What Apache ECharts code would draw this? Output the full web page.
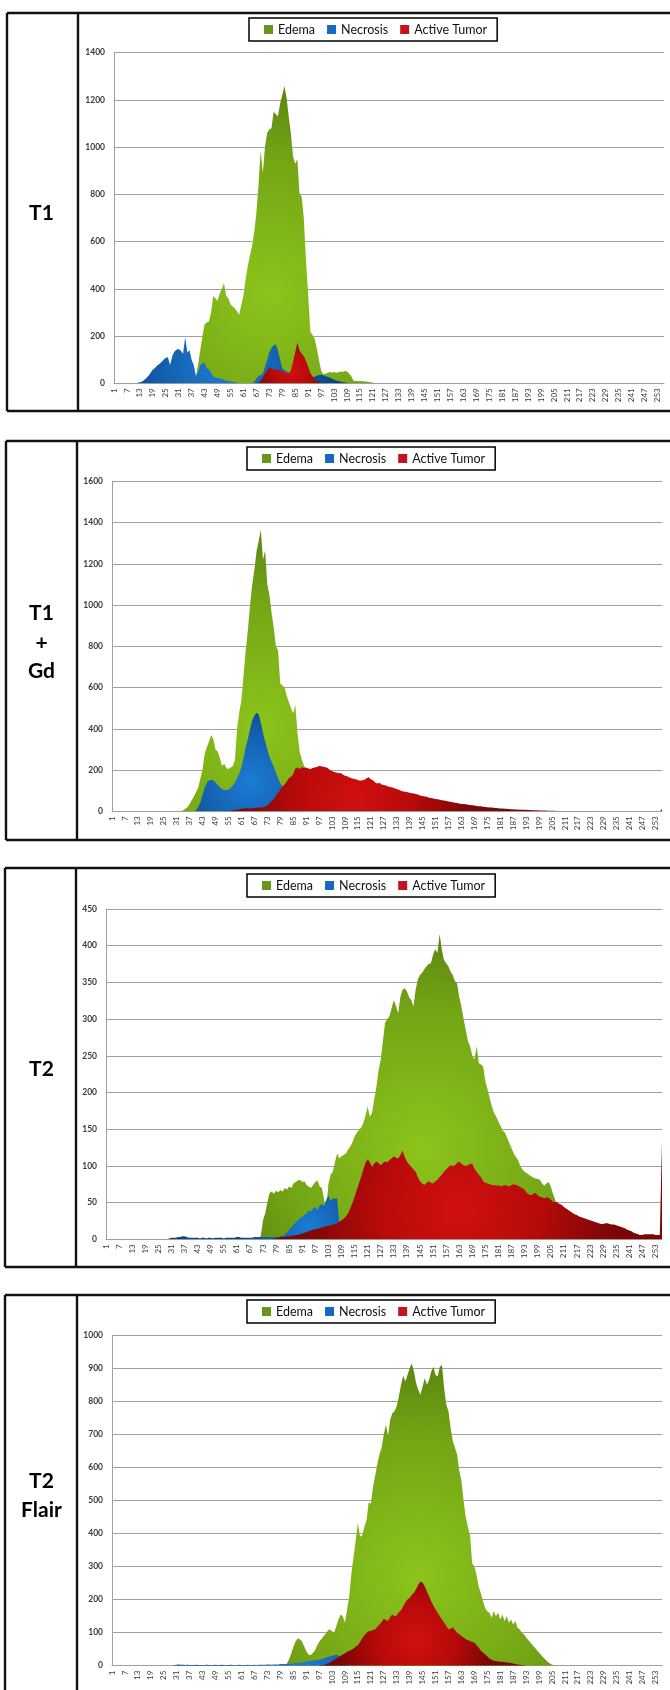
<!DOCTYPE html>
<html><head><meta charset="utf-8">
<script src="https://cdn.jsdelivr.net/npm/echarts@6/dist/echarts.min.js"></script>
<style>html,body{margin:0;padding:0;background:#fff}#c{width:670px;height:1690px}</style>
</head><body><div id="c"></div>
<script>
// intensity bins 1..256 (category axis)
const categories = Array.from({length: 256}, (_, i) => String(i + 1));
const seriesNames = ['Edema', 'Necrosis', 'Active Tumor'];
const panelLabels = [['T1'], ['T1', '+', 'Gd'], ['T2'], ['T2', 'Flair']];
const yMax = [1400, 1600, 450, 1000];
const yStep = [200, 200, 50, 100];

// ---------- T1 ----------
const t1Edema = [
0,0,0,0,0,0,0,0,0,0,0,0,0,0,0,0,
0,0,0,0,0,0,0,0,0,0,0,0,0,0,0,0,
0,0,0,0,0,5,30,80,140,200,250,258,262,300,370,360,
350,380,400,425,370,360,335,325,318,305,290,330,370,440,495,540,
580,640,720,840,985,890,1000,1060,1075,1080,1150,1140,1130,1185,1220,1258,
1210,1130,1060,960,930,950,805,790,700,520,380,220,205,190,150,100,
55,38,40,45,48,46,48,45,47,50,48,52,50,42,30,12,
10,10,9,10,8,8,6,4,2,0,0,0,0,0,0,0,
0,0,0,0,0,0,0,0,0,0,0,0,0,0,0,0,
0,0,0,0,0,0,0,0,0,0,0,0,0,0,0,0,
0,0,0,0,0,0,0,0,0,0,0,0,0,0,0,0,
0,0,0,0,0,0,0,0,0,0,0,0,0,0,0,0,
0,0,0,0,0,0,0,0,0,0,0,0,0,0,0,0,
0,0,0,0,0,0,0,0,0,0,0,0,0,0,0,0,
0,0,0,0,0,0,0,0,0,0,0,0,0,0,0,0,
0,0,0,0,0,0,0,0,0,0,0,0,0,0,0,0
];
const t1Necrosis = [
0,0,0,0,0,0,0,0,0,0,0,2,4,8,14,22,
32,45,58,65,75,82,90,100,108,110,78,115,135,142,145,138,
125,195,130,140,100,75,30,50,75,88,85,65,58,45,30,24,
22,20,18,14,12,10,8,7,4,2,0,0,0,0,0,0,
0,5,20,30,35,40,70,100,130,150,160,165,140,100,65,55,
50,45,40,38,35,35,32,30,30,28,28,26,25,28,32,35,
36,34,30,28,25,20,15,12,10,8,6,4,2,0,0,0,
0,0,0,0,0,0,0,0,0,0,0,0,0,0,0,0,
0,0,0,0,0,0,0,0,0,0,0,0,0,0,0,0,
0,0,0,0,0,0,0,0,0,0,0,0,0,0,0,0,
0,0,0,0,0,0,0,0,0,0,0,0,0,0,0,0,
0,0,0,0,0,0,0,0,0,0,0,0,0,0,0,0,
0,0,0,0,0,0,0,0,0,0,0,0,0,0,0,0,
0,0,0,0,0,0,0,0,0,0,0,0,0,0,0,0,
0,0,0,0,0,0,0,0,0,0,0,0,0,0,0,0,
0,0,0,0,0,0,0,0,0,0,0,0,0,0,0,0
];
const t1Tumor = [
0,0,0,0,0,0,0,0,0,0,0,0,0,0,0,0,
0,0,0,0,0,0,0,0,0,0,0,0,0,0,0,0,
0,0,0,0,0,0,0,0,0,0,0,0,0,0,0,0,
0,0,0,0,0,0,0,0,0,0,0,0,0,0,0,0,
0,0,0,3,10,25,40,55,68,62,60,58,57,55,50,48,
42,40,55,90,130,172,140,125,115,95,70,45,30,18,10,5,
2,0,0,0,0,0,0,0,0,0,0,0,0,0,0,0,
0,0,0,0,0,0,0,0,0,0,0,0,0,0,0,0,
0,0,0,0,0,0,0,0,0,0,0,0,0,0,0,0,
0,0,0,0,0,0,0,0,0,0,0,0,0,0,0,0,
0,0,0,0,0,0,0,0,0,0,0,0,0,0,0,0,
0,0,0,0,0,0,0,0,0,0,0,0,0,0,0,0,
0,0,0,0,0,0,0,0,0,0,0,0,0,0,0,0,
0,0,0,0,0,0,0,0,0,0,0,0,0,0,0,0,
0,0,0,0,0,0,0,0,0,0,0,0,0,0,0,0,
0,0,0,0,0,0,0,0,0,0,0,0,0,0,0,0
];

// ---------- T1 + Gd ----------
const t1gdEdema = [
0,0,0,0,0,0,0,0,0,0,0,0,0,0,0,0,
0,0,0,0,0,0,0,0,0,0,0,0,0,0,0,0,
0,5,12,20,35,55,70,95,115,160,205,280,310,340,370,350,
300,290,260,220,230,210,205,212,218,250,400,480,540,660,780,880,
1000,1100,1170,1260,1310,1365,1220,1265,1100,1050,960,890,800,780,620,610,
600,560,530,500,475,515,380,290,250,222,205,180,150,120,90,60,
40,25,15,8,4,2,0,0,0,0,0,0,0,0,0,0,
0,0,0,0,0,0,0,0,0,0,0,0,0,0,0,0,
0,0,0,0,0,0,0,0,0,0,0,0,0,0,0,0,
0,0,0,0,0,0,0,0,0,0,0,0,0,0,0,0,
0,0,0,0,0,0,0,0,0,0,0,0,0,0,0,0,
0,0,0,0,0,0,0,0,0,0,0,0,0,0,0,0,
0,0,0,0,0,0,0,0,0,0,0,0,0,0,0,0,
0,0,0,0,0,0,0,0,0,0,0,0,0,0,0,0,
0,0,0,0,0,0,0,0,0,0,0,0,0,0,0,0,
0,0,0,0,0,0,0,0,0,0,0,0,0,0,0,0
];
const t1gdNecrosis = [
0,0,0,0,0,0,0,0,0,0,0,0,0,0,0,0,
0,0,0,0,0,0,0,0,0,0,0,0,0,0,0,0,
0,0,0,0,0,0,0,5,20,45,80,115,140,150,152,150,
140,128,118,108,103,103,105,112,125,140,160,185,215,260,310,350,
400,440,465,478,470,430,380,340,300,265,240,215,186,160,135,120,
105,90,70,50,30,18,10,5,2,0,0,0,0,0,0,0,
0,0,0,0,0,0,0,0,0,0,0,0,0,0,0,0,
0,0,0,0,0,0,0,0,0,0,0,0,0,0,0,0,
0,0,0,0,0,0,0,0,0,0,0,0,0,0,0,0,
0,0,0,0,0,0,0,0,0,0,0,0,0,0,0,0,
0,0,0,0,0,0,0,0,0,0,0,0,0,0,0,0,
0,0,0,0,0,0,0,0,0,0,0,0,0,0,0,0,
0,0,0,0,0,0,0,0,0,0,0,0,0,0,0,0,
0,0,0,0,0,0,0,0,0,0,0,0,0,0,0,0,
0,0,0,0,0,0,0,0,0,0,0,0,0,0,0,0,
0,0,0,0,0,0,0,0,0,0,0,0,0,0,0,0
];
const t1gdTumor = [
0,0,0,0,0,0,0,0,0,0,0,0,0,0,0,0,
0,0,0,0,0,0,0,0,0,0,0,0,0,0,0,0,
0,0,0,0,0,0,0,0,0,0,0,0,0,0,0,0,
0,0,0,0,0,0,0,3,5,6,8,10,12,14,15,15,
14,15,16,17,18,18,20,22,28,38,50,60,75,90,105,120,
130,145,160,168,180,208,212,205,214,210,212,208,205,210,212,215,
220,218,216,214,210,200,195,190,188,185,186,178,172,170,165,160,
158,155,152,148,150,152,160,165,155,150,140,135,138,130,128,125,
120,118,115,112,108,105,100,96,95,92,90,88,86,84,80,76,
74,72,70,66,64,62,60,58,56,54,52,50,48,46,44,42,
40,38,36,35,34,32,30,29,28,26,25,24,22,21,20,19,
18,17,16,15,14,13,12,12,11,10,10,9,9,8,8,7,
7,6,6,5,5,5,4,4,4,4,3,3,3,3,2,2,
2,2,2,2,2,1,1,1,1,1,1,1,1,1,1,1,
1,0,0,0,0,0,0,0,0,0,0,0,0,0,0,0,
0,0,0,0,0,0,0,0,0,0,0,0,0,0,0,10
];

// ---------- T2 ----------
const t2Edema = [
0,0,0,0,0,0,0,0,0,0,0,0,0,0,0,0,
0,0,0,0,0,0,0,0,0,0,0,0,0,0,0,0,
0,0,0,0,0,0,0,0,0,0,0,0,0,0,0,0,
0,0,0,0,0,0,0,0,0,0,0,0,0,0,0,0,
0,0,0,0,0,0,0,5,26,35,50,63,65,62,66,64,
67,65,70,68,72,70,76,78,80,81,78,79,74,72,70,74,
78,80,72,70,55,40,75,88,92,105,117,110,113,115,117,122,
126,132,140,145,149,152,158,168,181,167,172,190,208,230,245,270,
295,300,304,315,326,318,308,330,340,342,338,330,326,317,340,354,
360,363,368,372,375,376,388,395,390,416,395,381,376,372,365,360,
352,349,330,317,300,285,270,263,250,245,263,240,238,235,215,204,
192,181,172,167,160,154,148,145,138,131,124,117,112,108,100,95,
92,90,88,86,84,83,82,81,76,73,76,78,72,62,54,45,
38,30,20,10,0,0,0,0,0,0,0,0,0,0,0,0,
0,0,0,0,0,0,0,0,0,0,0,0,0,0,0,0,
0,0,0,0,0,0,0,0,0,0,0,0,0,0,0,0
];
const t2Necrosis = [
0,0,0,0,0,0,0,0,0,0,0,0,0,0,0,0,
0,0,0,0,0,0,0,0,0,0,0,0,0,1,2,2,
2,3,3,4,4,3,2,2,2,2,2,1,2,2,1,2,
2,1,2,2,2,2,1,2,2,2,2,2,3,3,2,2,
2,2,2,2,3,3,3,3,3,3,3,3,3,3,3,3,
4,5,7,9,13,16,20,23,26,29,30,33,35,40,38,42,
44,40,46,48,45,54,60,52,56,55,56,22,15,10,5,2,
0,0,0,0,0,0,0,0,0,0,0,0,0,0,0,0,
0,0,0,0,0,0,0,0,0,0,0,0,0,0,0,0,
0,0,0,0,0,0,0,0,0,0,0,0,0,0,0,0,
0,0,0,0,0,0,0,0,0,0,0,0,0,0,0,0,
0,0,0,0,0,0,0,0,0,0,0,0,0,0,0,0,
0,0,0,0,0,0,0,0,0,0,0,0,0,0,0,0,
0,0,0,0,0,0,0,0,0,0,0,0,0,0,0,0,
0,0,0,0,0,0,0,0,0,0,0,0,0,0,0,0,
0,0,0,0,0,0,0,0,0,0,0,0,0,0,0,0
];
const t2Tumor = [
0,0,0,0,0,0,0,0,0,0,0,0,0,0,0,0,
0,0,0,0,0,0,0,0,0,0,0,0,0,0,0,0,
0,0,0,0,0,0,0,0,0,0,0,0,0,0,0,0,
0,0,0,0,0,0,0,0,0,0,0,0,0,0,0,0,
0,0,0,0,0,0,0,0,0,0,0,0,0,1,2,2,
3,3,3,4,4,5,5,6,6,7,8,9,10,11,12,13,
14,14,15,16,17,18,18,19,20,21,22,24,26,28,31,35,
42,49,58,67,76,85,95,104,109,105,99,103,106,104,101,104,
106,105,108,110,113,111,110,115,121,112,106,102,99,95,92,85,
79,76,74,77,79,77,76,79,81,85,88,92,95,98,101,100,
101,104,106,103,101,100,101,103,103,96,92,88,85,79,77,76,
75,74,74,73,74,72,73,74,73,72,74,75,74,73,71,70,
67,63,61,60,62,63,60,58,57,56,57,57,54,51,51,50,
48,47,44,42,40,38,36,34,33,31,30,29,28,27,26,25,
24,23,22,21,21,22,22,21,20,20,19,18,17,16,15,13,
12,11,9,8,7,6,6,7,7,7,7,7,6,6,6,135
];

// ---------- T2 Flair ----------
const flairEdema = [
0,0,0,0,0,0,0,0,0,0,0,0,0,0,0,0,
0,0,0,0,0,0,0,0,0,0,0,0,0,0,0,0,
0,0,0,0,0,0,0,0,0,0,0,0,0,0,0,0,
0,0,0,0,0,0,0,0,0,0,0,0,0,0,0,0,
0,0,0,0,0,0,0,0,0,0,0,0,0,0,0,0,
0,5,18,35,55,72,82,80,75,60,45,35,32,38,45,60,
72,80,88,97,105,110,104,100,120,140,155,150,130,170,210,280,
330,380,432,390,395,420,440,495,490,540,575,610,640,660,700,730,
695,745,765,770,785,815,850,878,860,880,900,915,890,855,835,820,
845,870,850,865,890,905,880,875,905,910,840,790,770,720,680,660,
640,590,560,500,450,420,395,310,300,275,240,220,195,175,165,160,
145,165,150,160,140,155,135,150,130,140,125,135,115,110,100,95,
85,78,70,62,55,47,40,32,25,18,12,7,3,1,0,0,
0,0,0,0,0,0,0,0,0,0,0,0,0,0,0,0,
0,0,0,0,0,0,0,0,0,0,0,0,0,0,0,0,
0,0,0,0,0,0,0,0,0,0,0,0,0,0,0,0
];
const flairNecrosis = [
0,0,0,0,0,0,0,0,0,0,0,0,0,0,0,0,
0,0,0,0,0,0,0,0,0,0,0,0,0,2,3,4,
3,3,2,3,2,2,2,3,2,2,2,2,3,2,2,2,
3,2,2,3,2,2,2,3,2,2,2,3,2,2,2,3,
2,2,3,2,3,3,3,3,4,4,3,4,4,4,5,5,
5,5,6,6,7,8,8,9,10,11,12,13,14,15,16,17,
18,20,22,24,26,28,30,32,34,30,20,10,4,0,0,0,
0,0,0,0,0,0,0,0,0,0,0,0,0,0,0,0,
0,0,0,0,0,0,0,0,0,0,0,0,0,0,0,0,
0,0,0,0,0,0,0,0,0,0,0,0,0,0,0,0,
0,0,0,0,0,0,0,0,0,0,0,0,0,0,0,0,
0,0,0,0,0,0,0,0,0,0,0,0,0,0,0,0,
0,0,0,0,0,0,0,0,0,0,0,0,0,0,0,0,
0,0,0,0,0,0,0,0,0,0,0,0,0,0,0,0,
0,0,0,0,0,0,0,0,0,0,0,0,0,0,0,0,
0,0,0,0,0,0,0,0,0,0,0,0,0,0,0,0
];
const flairTumor = [
0,0,0,0,0,0,0,0,0,0,0,0,0,0,0,0,
0,0,0,0,0,0,0,0,0,0,0,0,0,0,0,0,
0,0,0,0,0,0,0,0,0,0,0,0,0,0,0,0,
0,0,0,0,0,0,0,0,0,0,0,0,0,0,0,0,
0,0,0,0,0,0,0,0,0,0,0,0,0,0,0,0,
0,0,0,0,0,0,0,0,0,0,0,0,0,0,0,0,
0,1,2,4,7,10,14,18,22,26,30,34,38,42,45,48,
52,58,62,72,82,92,100,104,105,108,110,118,125,132,142,138,
135,148,155,150,152,162,168,180,192,200,205,215,220,232,245,255,
252,240,225,210,195,182,170,160,150,140,130,120,110,112,116,108,
100,95,90,85,80,78,75,72,70,62,55,45,40,34,28,22,
18,15,14,13,12,12,11,10,9,8,7,5,4,3,2,1,
0,0,0,0,0,0,0,0,0,0,0,0,0,0,0,0,
0,0,0,0,0,0,0,0,0,0,0,0,0,0,0,0,
0,0,0,0,0,0,0,0,0,0,0,0,0,0,0,0,
0,0,0,0,0,0,0,0,0,0,0,0,0,0,0,0
];

const panelData = [
  [t1Edema, t1Necrosis, t1Tumor],
  [t1gdEdema, t1gdNecrosis, t1gdTumor],
  [t2Edema, t2Necrosis, t2Tumor],
  [flairEdema, flairNecrosis, flairTumor]
];

// ---------- layout & style ----------
const layout = [
  {top: 13,   bottom: 411,  left: 7, divider: 78, labelY: [213],        legendLeft: 249, legendTop: 18,   grid: {left: 114, top: 52.7,   width: 550, height: 330.6}},
  {top: 441,  bottom: 840,  left: 6, divider: 77, labelY: [613, 643, 671], legendLeft: 247, legendTop: 447,  grid: {left: 112, top: 481.3,  width: 550, height: 330}},
  {top: 868,  bottom: 1267, left: 5, divider: 76, labelY: [1069],       legendLeft: 247, legendTop: 874,  grid: {left: 106, top: 909,    width: 556, height: 330.3}},
  {top: 1295, bottom: null, left: 5, divider: 77, labelY: [1481, 1510], legendLeft: 247, legendTop: 1300, grid: {left: 112, top: 1335.3, width: 550, height: 330.4}}
];
const legendColors = ['#66961c', '#1768c0', '#c0161c'];
const gradStops = [
  ['#8cc41b', '#74a515', '#4a6d0c'],
  ['#1c7cd4', '#1462b2', '#0a4686'],
  ['#d01010', '#b80a0a', '#7c0606']
];

function radialFill(data, g, ymax, cols) {
  let s = 0, sw = 0, mx = 0;
  data.forEach((v, i) => { s += v; sw += v * i; if (v > mx) mx = v; });
  const m = sw / s;
  let vr = 0;
  data.forEach((v, i) => { vr += v * (i - m) * (i - m); });
  const sd = Math.sqrt(vr / s);
  const pxPer = g.width / 255;
  const peakPx = mx / ymax * g.height;
  const cx = g.left + m * pxPer;
  const cy = g.top + g.height - peakPx * 0.3;
  const r = Math.max(peakPx * 0.9, sd * pxPer * 2.0, 20);
  return {type: 'radial', x: cx, y: cy, r: r, global: true,
    colorStops: [{offset: 0, color: cols[0]}, {offset: 0.5, color: cols[1]}, {offset: 1, color: cols[2]}]};
}

const grids = [], xAxes = [], yAxes = [], legends = [], series = [], graphics = [];
layout.forEach((L, p) => {
  grids.push(Object.assign({containLabel: false}, L.grid));
  xAxes.push({
    type: 'category', gridIndex: p, data: categories, boundaryGap: false,
    axisLine: {show: true, lineStyle: {color: '#a0a0a0', width: 1}},
    axisTick: {show: false},
    axisLabel: {interval: 5, rotate: 90, fontSize: 8, color: '#3a3a3a', fontFamily: 'Lato', margin: 5},
    splitLine: {show: false}
  });
  yAxes.push({
    type: 'value', gridIndex: p, min: 0, max: yMax[p], interval: yStep[p],
    axisLine: {show: true, lineStyle: {color: '#a0a0a0', width: 1}},
    axisTick: {show: false},
    axisLabel: {fontSize: 8.5, fontWeight: 'bold', color: '#3a3a3a', fontFamily: 'Lato', margin: 9,
      formatter: v => String(v)},
    splitLine: {show: true, lineStyle: {color: '#a0a0a0', width: 1.2}}
  });
  legends.push({
    left: L.legendLeft, top: L.legendTop, orient: 'horizontal',
    data: seriesNames.map((n, i) => ({name: n, itemStyle: {color: legendColors[i]}})),
    icon: 'rect', itemWidth: 9, itemHeight: 9, itemGap: 12,
    textStyle: {fontFamily: 'Lato', fontSize: 12.5, color: '#111'},
    borderColor: '#000', borderWidth: 1.5, backgroundColor: '#fff',
    padding: [5, 10, 5, 15], selectedMode: false
  });
  panelData[p].forEach((d, i) => {
    series.push({
      name: seriesNames[i], type: 'line', xAxisIndex: p, yAxisIndex: p, data: d,
      symbol: 'none', showSymbol: false, silent: true, animation: false, z: 2 + i,
      lineStyle: {width: 0, opacity: 0},
      itemStyle: {color: legendColors[i]},
      areaStyle: {opacity: 1, color: radialFill(d, L.grid, yMax[p], gradStops[i])},
      emphasis: {disabled: true}
    });
  });
  const bottom = L.bottom === null ? 1692 : L.bottom;
  const lw = 2.4, stroke = '#111';
  graphics.push({type: 'line', shape: {x1: L.left, y1: L.top, x2: 670, y2: L.top}, style: {stroke, lineWidth: lw}});
  if (L.bottom !== null) graphics.push({type: 'line', shape: {x1: L.left, y1: L.bottom, x2: 670, y2: L.bottom}, style: {stroke, lineWidth: lw}});
  graphics.push({type: 'line', shape: {x1: L.left, y1: L.top, x2: L.left, y2: bottom}, style: {stroke, lineWidth: lw}});
  graphics.push({type: 'line', shape: {x1: L.divider, y1: L.top, x2: L.divider, y2: bottom}, style: {stroke, lineWidth: lw}});
  panelLabels[p].forEach((t, j) => {
    graphics.push({type: 'text', style: {text: t, x: 41.5, y: L.labelY[j], align: 'center', verticalAlign: 'middle',
      fontFamily: 'Lato', fontWeight: 'bold', fontSize: 21, fill: '#000'}});
  });
});

const chart = echarts.init(document.getElementById('c'), null, {renderer: 'canvas'});
chart.setOption({
  animation: false,
  backgroundColor: '#fff',
  grid: grids, xAxis: xAxes, yAxis: yAxes, legend: legends, series: series,
  graphic: graphics
});
</script></body></html>
